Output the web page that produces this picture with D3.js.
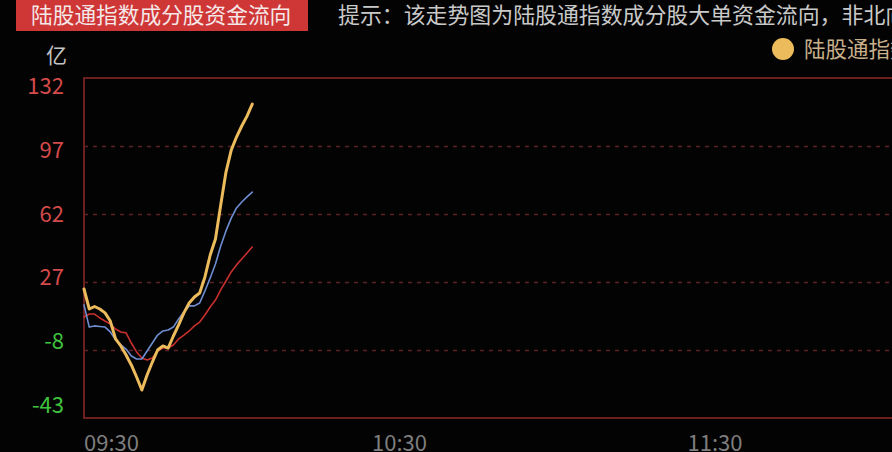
<!DOCTYPE html>
<html>
<head>
<meta charset="utf-8">
<script src="https://cdn.jsdelivr.net/npm/d3@7"></script>
<style>
  html, body { margin: 0; padding: 0; background: #030303; overflow: hidden; }
  svg { display: block; }
</style>
</head>
<body>
<svg id="chart" width="892" height="452"></svg>
<script>
// ---- data ----
const titleText = "陆股通指数成分股资金流向";
const hintText = "提示：该走势图为陆股通指数成分股大单资金流向，非北向资金流向";
const unitText = "亿";
const yTicks = [132, 97, 62, 27, -8, -43];
const xTickLabels = ["09:30", "10:30", "11:30", "13:00", "14:00", "15:00"];
const xTickMinutes = [0, 60, 120, 120, 180, 240];
const seriesNames = ["陆股通指数成分股", "沪股通成分股", "深股通成分股"];
// one value per minute from 09:30
const yellowValues = [23.4, 13.1, 14.4, 13.1, 11.1, 6.9, -2.3, -5.9, -10.6, -15.7, -21.9, -28.6, -20.9, -14.2, -8, -5.9, -7, -0.8, 4.9, 11.1, 16.2, 19.3, 21.3, 29.6, 40.9, 49.1, 66.6, 83.6, 94.9, 101.6, 107.3, 112.4, 118.6];
const blueValues = [15.2, 3.8, 4.4, 4.1, 3.8, 1.3, -2.8, -5.4, -7.5, -11.1, -12.6, -12.6, -8.5, -4.4, -0.3, 1.8, 2.3, 3.8, 8.0, 11.6, 14.7, 14.7, 16.2, 22.4, 29.1, 36.3, 45.5, 53.3, 59.9, 65.1, 68.2, 70.8, 73.3];
const redValues = [9.0, 10.5, 10.5, 8.5, 6.9, 5.4, 2.8, 1.3, 0.8, -4.4, -9, -12.1, -13.1, -12.1, -8.5, -7, -7, -5.4, -2.3, -0.3, 1.8, 4.4, 6.4, 10, 14.1, 17.7, 22.9, 27.5, 32.2, 35.8, 38.8, 41.9, 45];

const seriesColors = ["#ecbb5c", "#6f8ed2", "#c8302e"];
const seriesWidths = [3, 1.6, 1.6];

// ---- layout ----
const svg = d3.select("#chart");
const W = 892, H = 452;
const plotLeft = 84, plotTop = 78, plotBottom = 418;
const minuteWidth = 631 / 120;
const plotRight = plotLeft + 240 * minuteWidth;

svg.append("rect").attr("width", W).attr("height", H).attr("fill", "#030303");

const cjk = "'Noto Sans CJK SC', 'Noto Sans', sans-serif";

const x = d3.scaleLinear().domain([0, 240]).range([plotLeft, plotRight]);
const y = d3.scaleLinear().domain([-43, 132]).range([plotBottom, plotTop]);
const yLabel = d3.scaleLinear().domain([-43, 132]).range([405, 86]);

// title box
svg.append("rect").attr("x", 16).attr("y", 0).attr("width", 292).attr("height", 31).attr("fill", "#cf3636");
svg.append("text").attr("x", 31).attr("y", 23).attr("fill", "#f4e8e8")
  .attr("font-family", cjk).attr("font-size", 21.7).text(titleText);
svg.append("text").attr("x", 338).attr("y", 23).attr("fill", "#c9c9c9")
  .attr("font-family", cjk).attr("font-size", 21.9).text(hintText);

// unit
svg.append("text").attr("x", 46).attr("y", 63).attr("fill", "#c4c4c4")
  .attr("font-family", cjk).attr("font-size", 21).text(unitText);

// legend
const legend = svg.append("g");
seriesNames.forEach((name, i) => {
  const lx = 783 + i * 220;
  legend.append("circle").attr("cx", lx).attr("cy", 49).attr("r", 11).attr("fill", seriesColors[i]);
  legend.append("text").attr("x", lx + 21).attr("y", 57).attr("fill", "#c9b08c")
    .attr("font-family", cjk).attr("font-size", 21.5).text(name);
});

// gridlines (dashed)
svg.append("g").selectAll("line").data(yTicks.filter(v => v !== 132 && v !== -43)).join("line")
  .attr("x1", plotLeft).attr("x2", plotRight)
  .attr("y1", d => Math.round(y(d)) + 0.5).attr("y2", d => Math.round(y(d)) + 0.5)
  .attr("stroke", "#5e2024").attr("stroke-width", 1.6).attr("stroke-dasharray", "4,5");

// frame
svg.append("rect").attr("x", plotLeft).attr("y", plotTop)
  .attr("width", plotRight - plotLeft).attr("height", plotBottom - plotTop)
  .attr("fill", "none").attr("stroke", "#6c1f1f").attr("stroke-width", 2);

// y tick labels
svg.append("g").selectAll("text").data(yTicks).join("text")
  .attr("x", 64).attr("y", d => yLabel(d)).attr("dy", "0.36em")
  .attr("text-anchor", "end")
  .attr("fill", d => d >= 0 ? "#d44a4a" : "#3fc33f")
  .attr("font-family", cjk).attr("font-size", 22)
  .text(d => d);

// x tick labels
svg.append("g").selectAll("text").data(xTickLabels.slice(0, 3)).join("text")
  .attr("x", (d, i) => x(xTickMinutes[i]))
  .attr("y", 451)
  .attr("text-anchor", (d, i) => i === 0 ? "start" : "middle")
  .attr("fill", "#7e7e7e")
  .attr("font-family", cjk).attr("font-size", 22)
  .text(d => d);

// lines
const line = d3.line().x((d, i) => x(i)).y(d => y(d)).curve(d3.curveLinear);
const allSeries = [redValues, blueValues, yellowValues];
const order = [2, 1, 0];
allSeries.forEach((vals, k) => {
  const idx = order[k];
  svg.append("path").datum(vals)
    .attr("d", line)
    .attr("fill", "none")
    .attr("stroke", seriesColors[idx])
    .attr("stroke-width", seriesWidths[idx])
    .attr("stroke-linejoin", "round")
    .attr("stroke-linecap", "round");
});
</script>
</body>
</html>
